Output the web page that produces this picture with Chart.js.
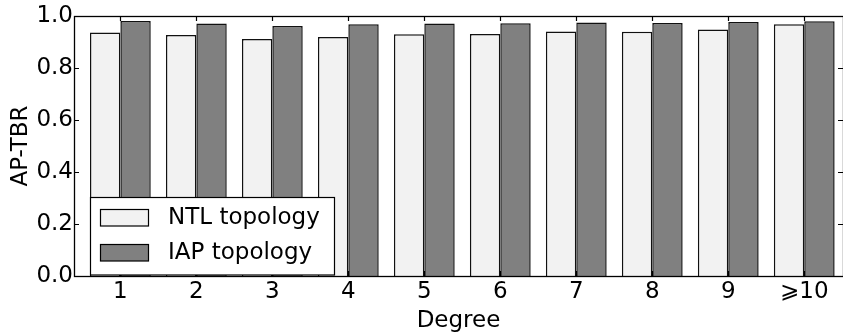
<!DOCTYPE html>
<html>
<head>
<meta charset="utf-8">
<script src="https://cdn.jsdelivr.net/npm/chart.js@4.4.1/dist/chart.umd.min.js"></script>
<style>
  html, body { margin: 0; padding: 0; background: #fff; }
  #wrap { width: 843px; height: 336px; }
</style>
</head>
<body>
<div id="wrap"><canvas id="c" width="843" height="336"></canvas></div>
<script>
const categories = ["1", "2", "3", "4", "5", "6", "7", "8", "9", "\u2A7E10"];
const ntlValues = [0.937, 0.927, 0.912, 0.919, 0.930, 0.931, 0.940, 0.939, 0.948, 0.968];
const iapValues = [0.981, 0.971, 0.962, 0.968, 0.971, 0.972, 0.975, 0.973, 0.977, 0.980];
const yTicks = [0.0, 0.2, 0.4, 0.6, 0.8, 1.0];
const seriesLabels = ["NTL topology", "IAP topology"];
const seriesColors = ["#f2f2f2", "#808080"];

const FONT = "DejaVu Sans";
Chart.defaults.font.family = FONT;
Chart.defaults.color = "#000";

const framePlugin = {
  id: "frame",
  afterDatasetsDraw(chart) {
    const ctx = chart.ctx;
    const a = chart.chartArea;
    const xs = chart.scales.x, ys = chart.scales.y;
    ctx.save();
    ctx.strokeStyle = "#000";
    ctx.lineWidth = 1.2;
    // ticks inward
    ctx.beginPath();
    categories.forEach((c, i) => {
      const px = Math.round(xs.getPixelForValue(i)) + 0.5;
      ctx.moveTo(px, a.top); ctx.lineTo(px, a.top + 5);
      ctx.moveTo(px, a.bottom); ctx.lineTo(px, a.bottom - 5);
    });
    yTicks.forEach(v => {
      const py = Math.round(ys.getPixelForValue(v)) + 0.5;
      ctx.moveTo(a.left, py); ctx.lineTo(a.left + 5, py);
      ctx.moveTo(a.right, py); ctx.lineTo(a.right - 5, py);
    });
    ctx.stroke();
    // frame
    ctx.lineWidth = 1.3;
    ctx.strokeRect(a.left + 0.5, a.top + 0.5, a.right - a.left, a.bottom - a.top);
    // legend
    const lx = 90.5, ly = 197.5, lw = 244, lh = 77.5;
    ctx.fillStyle = "#fff";
    ctx.fillRect(lx, ly, lw, lh);
    ctx.lineWidth = 1.2;
    ctx.strokeStyle = "#000";
    ctx.strokeRect(lx, ly, lw, lh);
    chart.data.datasets.forEach((ds, i) => {
      const by = 209.5 + i * 35;
      ctx.fillStyle = ds.backgroundColor;
      ctx.fillRect(100.5, by, 48, 16.5);
      ctx.strokeStyle = "#000";
      ctx.strokeRect(100.5, by, 48, 16.5);
      ctx.fillStyle = "#000";
      ctx.font = "23px '" + FONT + "'";
      ctx.textBaseline = "middle";
      ctx.textAlign = "left";
      ctx.fillText(ds.label, 168, by + 9);
    });
    ctx.restore();
  }
};

new Chart(document.getElementById("c"), {
  type: "bar",
  data: {
    datasets: [
      {
        label: seriesLabels[0],
        data: ntlValues.map((v, i) => ({ x: i, y: v })),
        backgroundColor: seriesColors[0],
        borderColor: "#111",
        borderWidth: 1.5,
        categoryPercentage: 0.8,
        barPercentage: 1.0
      },
      {
        label: seriesLabels[1],
        data: iapValues.map((v, i) => ({ x: i, y: v })),
        backgroundColor: seriesColors[1],
        borderColor: "#111",
        borderWidth: 1.5,
        categoryPercentage: 0.8,
        barPercentage: 1.0
      }
    ]
  },
  options: {
    responsive: false,
    animation: false,
    devicePixelRatio: 1,
    layout: { padding: { top: 16, right: 0, left: 0, bottom: 0 } },
    plugins: { legend: { display: false }, tooltip: { enabled: false } },
    scales: {
      x: {
        type: "linear",
        offset: false,
        min: -0.61,
        max: 9.51,
        grid: { display: false, drawTicks: false, offset: false },
        border: { display: false },
        afterBuildTicks(scale) { scale.ticks = categories.map((c, i) => ({ value: i })); },
        afterFit(scale) { scale.height = 60; scale.paddingLeft = 0; scale.paddingRight = 0; },
        ticks: {
          autoSkip: false,
          maxRotation: 0,
          padding: 2,
          font: { size: 23 },
          callback: (v) => categories[v]
        },
        title: { display: true, text: "Degree", font: { size: 23 }, padding: { top: 0, bottom: 1 } }
      },
      y: {
        min: 0,
        max: 1,
        grid: { display: false, drawTicks: false },
        border: { display: false },
        afterBuildTicks(scale) { scale.ticks = yTicks.map(v => ({ value: v })); },
        afterFit(scale) { scale.width = 74; scale.paddingTop = 0; scale.paddingBottom = 0; },
        ticks: {
          padding: 1,
          font: { size: 23 },
          callback: (v) => v.toFixed(1)
        },
        title: { display: true, text: "AP-TBR", font: { size: 23 }, padding: { top: 7, bottom: 0 } }
      }
    }
  },
  plugins: [framePlugin]
});
</script>
</body>
</html>
